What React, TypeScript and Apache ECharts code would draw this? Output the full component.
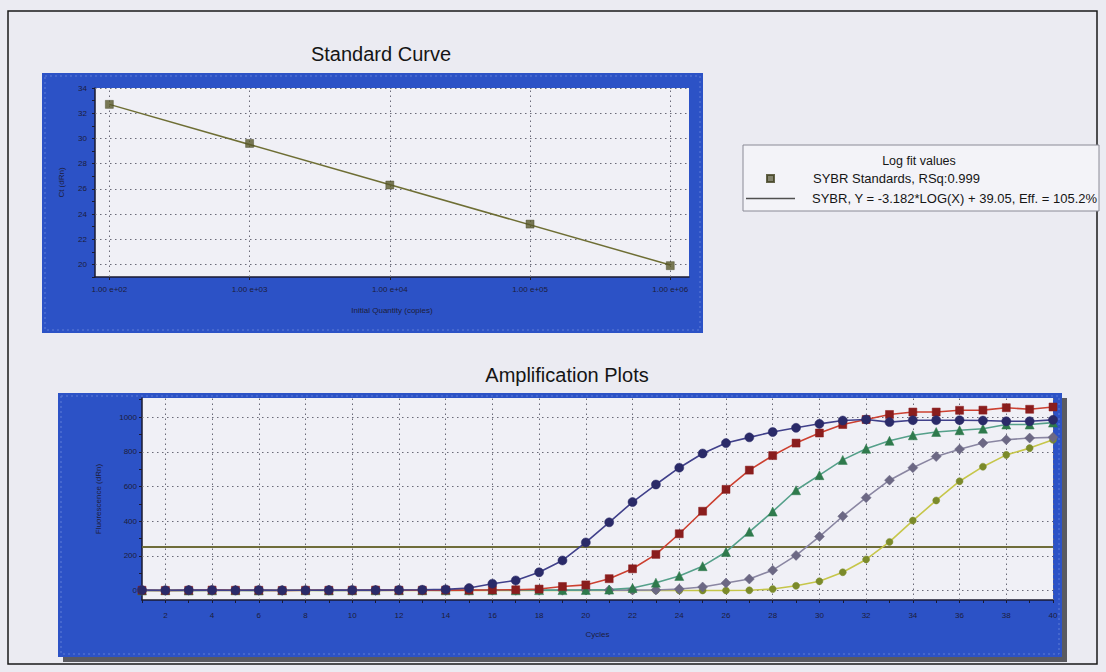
import React, { useEffect, useRef } from "react";
import * as echarts from "echarts";

// ---------- Standard curve data ----------
const stdQuantities = [100, 1000, 10000, 100000, 1000000];
const stdCt = [32.7, 29.6, 26.3, 23.2, 19.9];
const fitQuantities = [100, 1000000];
const fitCt = [32.7, 19.95];
const ctLabelTicks = [20, 22, 24, 26, 28, 30, 32, 34];
const decadeTicks = [100, 1000, 10000, 100000, 1000000];

// ---------- Amplification data ----------
const cycles = [
  1, 2, 3, 4, 5, 6, 7, 8, 9, 10, 11, 12, 13, 14, 15, 16, 17, 18, 19, 20,
  21, 22, 23, 24, 25, 26, 27, 28, 29, 30, 31, 32, 33, 34, 35, 36, 37, 38, 39, 40,
];
const ampNavy = [
  2, 1, 2, 2, 1, 2, 1, 1, 2, 2, 2, 3, 4, 6, 14, 39, 58, 105, 173, 277,
  393, 510, 611, 708, 790, 850, 883, 914, 938, 961, 980, 986, 971, 982, 982, 982, 980, 976, 976, 984,
];
const ampRed = [
  1, 0, 1, 2, 1, 1, 0, 1, 1, 1, 2, 1, 1, 2, 2, 3, 4, 8, 23, 32,
  68, 125, 208, 327, 457, 583, 694, 778, 850, 908, 957, 986, 1015, 1029, 1029, 1039, 1040, 1054, 1045, 1058,
];
const ampGreen = [
  0, 1, 0, 1, 1, 0, 1, 1, 0, 1, 1, 1, 1, 1, 1, 2, 1, 2, 2, 3,
  5, 14, 45, 84, 140, 222, 338, 455, 578, 665, 753, 817, 863, 895, 914, 924, 933, 957, 957, 968,
];
const ampGrey = [
  0, 0, 1, 0, 1, 0, 0, 1, 1, 0, 0, 1, 1, 0, 1, 1, 1, 1, 1, 2,
  2, 2, 3, 8, 20, 43, 66, 117, 202, 311, 428, 535, 636, 708, 772, 815, 850, 869, 879, 883,
];
const ampYellow = [
  0, 0, 0, 0, 0, 0, 0, 0, 0, 0, 0, 0, 0, 0, 0, 0, 0, 0, 0, 0,
  0, 0, 0, 0, 0, 0, 1, 8, 27, 53, 105, 179, 280, 403, 519, 630, 714, 782, 821, 869,
];
const thresholdCycles = [1, 40];
const thresholdValues = [250, 250];
const fluorLabelTicks = [0, 200, 400, 600, 800, 1000];
const fluorMinorTicks = [0, 100, 200, 300, 400, 500, 600, 700, 800, 900, 1000, 1100];
const cycleGridTicks = [2, 4, 6, 8, 10, 12, 14, 16, 18, 20, 22, 24, 26, 28, 30, 32, 34, 36, 38, 40];

const STD_NAME = "SYBR Standards, RSq:0.999";
const FIT_NAME = "SYBR, Y = -3.182*LOG(X) + 39.05, Eff. = 105.2%";

const FONT = "'Liberation Sans', Arial, Helvetica, sans-serif";
const BLUE = "#2c52c6";
const PLOT_BG = "#f0f0f6";
const PAGE_BG = "#ebebf2";
const AXIS_TXT = "#1d1d3a";

const zip = (xs: number[], ys: number[]) => xs.map((x, i) => [x, ys[i]]);

const gridLine = {
  silent: true,
  symbol: ["none", "none"],
  z: 1,
  label: { show: false },
  emphasis: { disabled: true },
  lineStyle: { type: [1.5, 3.5] as any, color: "#6a6a78", width: 1 },
};

export default function App() {
  const ref = useRef<HTMLDivElement>(null);

  useEffect(() => {
    if (!ref.current) return;
    const chart = echarts.init(ref.current, undefined, { renderer: "svg" });

    const ampSeries = (
      name: string,
      data: number[],
      symbol: string,
      size: number,
      marker: string,
      line: string
    ) => ({
      name,
      type: "line",
      xAxisIndex: 1,
      yAxisIndex: 1,
      data: zip(cycles, data),
      symbol,
      symbolSize: size,
      showAllSymbol: true,
      itemStyle: { color: marker, borderColor: marker, borderWidth: 0.5 },
      lineStyle: { color: line, width: 1.6 },
      z: 3,
    });

    const option: any = {
      animation: false,
      backgroundColor: PAGE_BG,
      textStyle: { fontFamily: FONT },
      title: [
        {
          text: "Standard Curve",
          left: 376,
          top: 39,
          textAlign: "center",
          textStyle: { fontSize: 20, fontWeight: "normal", color: "#151515", fontFamily: FONT },
        },
        {
          text: "Amplification Plots",
          left: 562,
          top: 360,
          textAlign: "center",
          textStyle: { fontSize: 20, fontWeight: "normal", color: "#151515", fontFamily: FONT },
        },
      ],
      legend: [
        {
          data: [{ name: STD_NAME, icon: "rect", itemStyle: { color: "#66664a" } }],
          left: 766,
          top: 172,
          padding: 0,
          itemWidth: 7,
          itemHeight: 7,
          selectedMode: false,
          textStyle: { fontSize: 13, color: "#151515", fontFamily: FONT, padding: [0, 0, 0, 34] },
        },
        {
          data: [{ name: FIT_NAME, icon: "rect", itemStyle: { color: "#505050" } }],
          left: 746,
          top: 192,
          padding: 0,
          itemWidth: 49,
          itemHeight: 1.5,
          selectedMode: false,
          textStyle: { fontSize: 13, color: "#151515", fontFamily: FONT, padding: [0, 0, 0, 12] },
        },
      ],
      graphic: [
        {
          type: "rect",
          z: -20,
          shape: { x: 8, y: 11, width: 1089, height: 653 },
          style: { fill: PAGE_BG, stroke: "#1a1a1a", lineWidth: 1.5 },
        },
        // top panel
        {
          type: "rect",
          z: -10,
          shape: { x: 42, y: 73, width: 661, height: 260 },
          style: { fill: BLUE },
        },
        {
          type: "rect",
          z: -9,
          shape: { x: 45, y: 76, width: 655, height: 254 },
          style: { fill: "none", stroke: "#5f7cd6", lineWidth: 1, lineDash: [2, 3] },
        },
        // bottom panel shadow + panel
        {
          type: "rect",
          z: -11,
          shape: { x: 63, y: 398, width: 1004, height: 264 },
          style: { fill: "#5a5a60" },
        },
        {
          type: "rect",
          z: -10,
          shape: { x: 58, y: 393, width: 1004, height: 264 },
          style: { fill: BLUE },
        },
        {
          type: "rect",
          z: -9,
          shape: { x: 61, y: 396, width: 998, height: 258 },
          style: { fill: "none", stroke: "#5f7cd6", lineWidth: 1, lineDash: [2, 3] },
        },
        // legend box
        {
          type: "rect",
          z: -5,
          shape: { x: 743, y: 145, width: 356, height: 66 },
          style: { fill: "#f3f3f8", stroke: "#8a8a96", lineWidth: 1 },
        },
        {
          type: "text",
          z: 10,
          style: {
            x: 919,
            y: 161,
            text: "Log fit values",
            fill: "#151515",
            font: `12.5px ${FONT}`,
            textAlign: "center",
            textVerticalAlign: "middle",
          },
        },
      ],
      grid: [
        {
          left: 95,
          top: 88,
          width: 594,
          height: 189,
          show: true,
          backgroundColor: PLOT_BG,
          borderWidth: 0,
        },
        {
          left: 142,
          top: 398,
          width: 911,
          height: 202,
          show: true,
          backgroundColor: PLOT_BG,
          borderWidth: 0,
        },
      ],
      xAxis: [
        {
          type: "log",
          logBase: 10,
          gridIndex: 0,
          min: 79,
          max: 1360000,
          name: "Initial Quantity (copies)",
          nameLocation: "middle",
          nameGap: 29,
          nameTextStyle: { fontSize: 8, color: AXIS_TXT, fontFamily: FONT },
          axisLine: { show: true, lineStyle: { color: "#1a1a30", width: 1.5 } },
          axisTick: { show: true, length: 3, customValues: decadeTicks, lineStyle: { color: "#1a1a30" } },
          axisLabel: {
            customValues: decadeTicks,
            fontSize: 8,
            color: AXIS_TXT,
            margin: 8,
            fontFamily: FONT,
            formatter: (v: number) => {
              const e = Math.round(Math.log10(v));
              return "1.00 e+" + String(e).padStart(2, "0");
            },
          },
          minorTick: { show: false },
          splitLine: { show: false },
        },
        {
          type: "value",
          gridIndex: 1,
          min: 1,
          max: 40,
          interval: 1,
          name: "Cycles",
          nameLocation: "middle",
          nameGap: 30,
          nameTextStyle: { fontSize: 8, color: AXIS_TXT, fontFamily: FONT },
          axisLine: { show: true, onZero: false, lineStyle: { color: "#1a1a30", width: 1.5 } },
          axisTick: { show: true, length: 3, lineStyle: { color: "#1a1a30" } },
          axisLabel: {
            fontSize: 8,
            color: AXIS_TXT,
            margin: 11,
            fontFamily: FONT,
            formatter: (v: number) => (v % 2 === 0 ? String(v) : ""),
          },
          splitLine: { show: false },
        },
      ],
      yAxis: [
        {
          type: "value",
          gridIndex: 0,
          min: 19,
          max: 34,
          interval: 1,
          name: "Ct (dRn)",
          nameLocation: "middle",
          nameGap: 30,
          nameRotate: 90,
          nameTextStyle: { fontSize: 8, color: AXIS_TXT, fontFamily: FONT },
          axisLine: { show: true, lineStyle: { color: "#1a1a30", width: 1.5 } },
          axisTick: { show: true, length: 3, lineStyle: { color: "#1a1a30" } },
          axisLabel: {
            fontSize: 8,
            color: AXIS_TXT,
            margin: 8,
            fontFamily: FONT,
            formatter: (v: number) => (ctLabelTicks.includes(v) ? String(v) : ""),
          },
          splitLine: { show: false },
        },
        {
          type: "value",
          gridIndex: 1,
          min: -55,
          max: 1110,
          name: "Fluorescence (dRn)",
          nameLocation: "middle",
          nameGap: 40,
          nameRotate: 90,
          nameTextStyle: { fontSize: 8, color: AXIS_TXT, fontFamily: FONT },
          axisLine: { show: true, onZero: false, lineStyle: { color: "#1a1a30", width: 1.5 } },
          axisTick: { show: true, length: 3, customValues: fluorMinorTicks, lineStyle: { color: "#1a1a30" } },
          axisLabel: {
            customValues: fluorLabelTicks,
            fontSize: 8,
            color: AXIS_TXT,
            margin: 5,
            fontFamily: FONT,
            formatter: (v: number) => String(v),
          },
          splitLine: { show: false },
        },
      ],
      series: [
        {
          name: FIT_NAME,
          type: "line",
          xAxisIndex: 0,
          yAxisIndex: 0,
          data: zip(fitQuantities, fitCt),
          symbol: "none",
          lineStyle: { color: "#6e6e34", width: 1.5 },
          itemStyle: { color: "#6e6e34" },
          z: 2,
          markLine: {
            ...gridLine,
            data: [
              ...ctLabelTicks.map((v) => ({ yAxis: v })),
              ...decadeTicks.map((v) => ({ xAxis: v })),
            ],
          },
        },
        {
          name: STD_NAME,
          type: "scatter",
          xAxisIndex: 0,
          yAxisIndex: 0,
          data: zip(stdQuantities, stdCt),
          symbol: "rect",
          symbolSize: 8,
          itemStyle: { color: "#5a5a2c", borderColor: "#3e3e1e", borderWidth: 0.5 },
          z: 3,
        },
        {
          name: "Threshold",
          type: "line",
          xAxisIndex: 1,
          yAxisIndex: 1,
          data: zip(thresholdCycles, thresholdValues),
          symbol: "none",
          lineStyle: { color: "#6f6d3a", width: 2 },
          z: 2,
          markLine: {
            ...gridLine,
            data: [
              ...fluorLabelTicks.map((v) => ({ yAxis: v })),
              ...cycleGridTicks.map((v) => ({ xAxis: v })),
            ],
          },
        },
        ampSeries("Yellow", ampYellow, "circle", 7, "#7b8a2a", "#c6c64a"),
        ampSeries("Grey", ampGrey, "diamond", 10, "#6c6884", "#8a86a2"),
        ampSeries("Green", ampGreen, "triangle", 9, "#2f7a4c", "#55a08a"),
        ampSeries("Red", ampRed, "rect", 8, "#8a1d1d", "#cc4030"),
        ampSeries("Navy", ampNavy, "circle", 9, "#2a2a68", "#40408a"),
      ],
    };

    chart.setOption(option);
    return () => chart.dispose();
  }, []);

  return (
    <div
      ref={ref}
      style={{ position: "absolute", left: 0, top: 0, width: 1106, height: 672 }}
    />
  );
}
